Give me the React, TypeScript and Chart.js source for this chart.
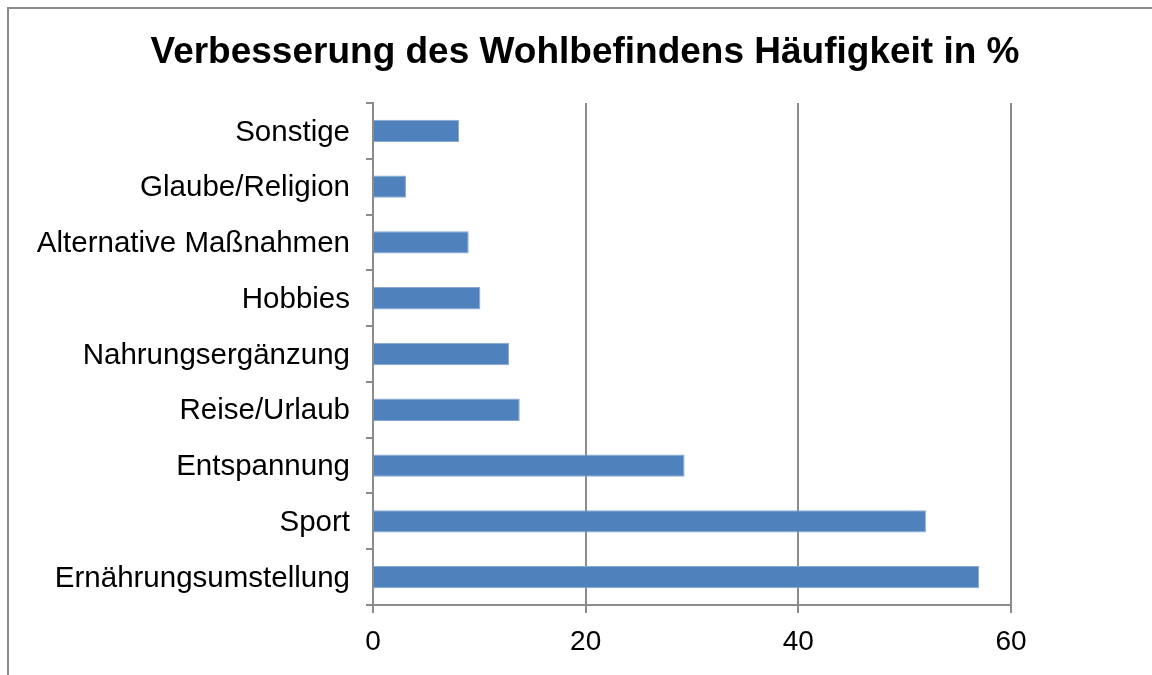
import React, { useEffect, useRef } from "react";
import { Chart, registerables } from "chart.js";

Chart.register(...registerables);

const categories = [
  "Sonstige",
  "Glaube/Religion",
  "Alternative Maßnahmen",
  "Hobbies",
  "Nahrungsergänzung",
  "Reise/Urlaub",
  "Entspannung",
  "Sport",
  "Ernährungsumstellung",
];
const values = [8.1, 3.1, 9.0, 10.1, 12.8, 13.8, 29.3, 52.0, 57.0];
const titleText = "Verbesserung des Wohlbefindens Häufigkeit in %";
const xMin = 0;
const xMax = 60;
const xStep = 20;

const FONT = "'Liberation Sans', Arial, sans-serif";
const GRID = "#8c8c8c";

const titlePlugin = {
  id: "centeredTitle",
  afterDraw(chart: any) {
    const ctx = chart.ctx;
    ctx.save();
    ctx.font = `bold 37px ${FONT}`;
    ctx.fillStyle = "#000";
    ctx.textAlign = "center";
    ctx.textBaseline = "alphabetic";
    ctx.fillText(titleText, chart.width / 2, 54);
    ctx.restore();
  },
};

export default function App() {
  const ref = useRef<HTMLCanvasElement>(null);
  useEffect(() => {
    if (!ref.current) return;
    const chart = new Chart(ref.current, {
      type: "bar",
      data: {
        labels: categories,
        datasets: [
          {
            data: values,
            backgroundColor: "#4F81BD",
            borderColor: "#86a8d4",
            borderWidth: 1,
            borderSkipped: "start",
            barPercentage: 0.4,
            categoryPercentage: 1,
          },
        ],
      },
      plugins: [titlePlugin],
      options: {
        indexAxis: "y",
        animation: false,
        responsive: false,
        maintainAspectRatio: false,
        layout: { padding: { left: 0, right: 150, top: 94, bottom: 0 } },
        plugins: {
          legend: { display: false },
          tooltip: { enabled: false },
          title: { display: false },
        },
        scales: {
          x: {
            min: xMin,
            max: xMax,
            ticks: {
              stepSize: xStep,
              color: "#000",
              font: { family: FONT, size: 28 },
              padding: 12,
            },
            grid: {
              color: GRID,
              lineWidth: 2,
              tickLength: 8,
              drawTicks: true,
            },
            border: { color: GRID, width: 2 },
            afterFit: (s: any) => {
              s.height = 70;
            },
          },
          y: {
            ticks: {
              color: "#000",
              font: { family: FONT, size: 29.5 },
              padding: 16,
              labelOffset: 1.5,
            },
            grid: {
              color: GRID,
              lineWidth: 2,
              drawOnChartArea: false,
              tickLength: 7,
              offset: true,
            },
            border: { color: GRID, width: 2 },
            afterFit: (s: any) => {
              s.width = 364;
            },
          },
        },
      },
    });
    return () => chart.destroy();
  }, []);

  return (
    <div
      style={{
        position: "fixed",
        left: 0,
        top: 0,
        width: 1152,
        height: 675,
        overflow: "hidden",
        background: "#fff",
      }}
    >
      <div
        style={{
          position: "absolute",
          left: 7,
          top: 7,
          width: 1152,
          height: 700,
          border: "2px solid #8a8a8a",
          boxSizing: "content-box",
        }}
      >
        <canvas ref={ref} width={1152} height={666} style={{ display: "block" }} />
      </div>
    </div>
  );
}
